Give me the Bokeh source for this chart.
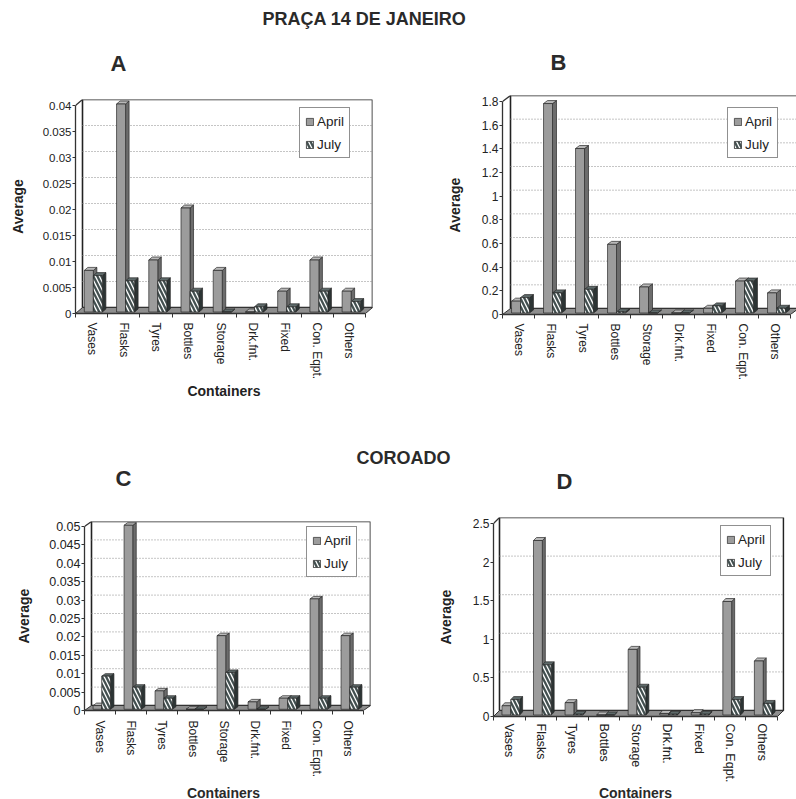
import numpy as np
from bokeh.plotting import figure
from bokeh.models import Range1d, LinearAxis, FixedTicker, Legend, LegendItem, Label
from bokeh.layouts import column, row
from bokeh.embed import file_html
from bokeh.resources import INLINE

# ---------------- data ----------------
categories = ["Vases", "Flasks", "Tyres", "Bottles", "Storage", "Drk.fnt.", "Fixed", "Con. Eqpt.", "Others"]
series_names = ["April", "July"]

a_april = [0.008, 0.04, 0.01, 0.02, 0.008, 0.0, 0.004, 0.01, 0.004]
a_july = [0.007, 0.006, 0.006, 0.004, 0.0, 0.001, 0.001, 0.004, 0.002]
a_yticks = [0, 0.005, 0.01, 0.015, 0.02, 0.025, 0.03, 0.035, 0.04]

b_april = [0.1, 1.77, 1.39, 0.58, 0.22, 0.0, 0.04, 0.27, 0.17]
b_july = [0.13, 0.17, 0.2, 0.01, 0.0, 0.0, 0.06, 0.27, 0.04]
b_yticks = [0, 0.2, 0.4, 0.6, 0.8, 1, 1.2, 1.4, 1.6, 1.8]

c_april = [0.001, 0.05, 0.005, 0.0, 0.02, 0.002, 0.003, 0.03, 0.02]
c_july = [0.009, 0.006, 0.003, 0.0, 0.01, 0.0, 0.003, 0.003, 0.006]
c_yticks = [0, 0.005, 0.01, 0.015, 0.02, 0.025, 0.03, 0.035, 0.04, 0.045, 0.05]

d_april = [0.12, 2.26, 0.16, 0.0, 0.85, 0.02, 0.03, 1.47, 0.7]
d_july = [0.2, 0.65, 0.01, 0.0, 0.36, 0.01, 0.01, 0.2, 0.15]
d_yticks = [0, 0.5, 1, 1.5, 2, 2.5]

header_top = "PRAÇA 14 DE JANEIRO"
header_bottom = "COROADO"
panel_letters = ["A", "B", "C", "D"]
y_title = "Average"
x_title = "Containers"

FONT = "Liberation Sans"
TXT = "#222222"
PAGE_W = 796


def build_panel(april, july, yticks, fig_x, fig_y, width, height,
                front_left, front_right, zero_y, top_y, DX, DY, frame_right,
                tick_font, cat_font, y_label_standoff, x_label, x_label_standoff,
                cat_standoff, legend_box):
    n = len(categories)
    ymax = yticks[-1]
    cw = (front_right - front_left) / n
    pxu = (zero_y - top_y) / ymax
    dx = DX / cw
    dy = DY / pxu
    L = front_left - fig_x
    R = fig_x + width - frame_right
    T = (top_y - DY) - fig_y
    B = fig_y + height - zero_y
    x0 = -0.5
    x1 = x0 + (frame_right - front_left) / cw
    y1 = (zero_y - (top_y - DY)) / pxu

    p = figure(width=width, height=height, x_range=Range1d(x0, x1), y_range=Range1d(0, y1),
               x_axis_type=None, y_axis_type=None, toolbar_location=None, output_backend="svg",
               min_border_left=L, min_border_right=R, min_border_top=T, min_border_bottom=B,
               outline_line_color=None)

    xe = n - 0.5
    # back wall
    p.quad(left=[x0 + dx], right=[xe + dx], bottom=[dy], top=[ymax + dy],
           fill_color="white", line_color="#222222", line_width=1.6)
    # grid lines on back wall
    gy = [t + dy for t in yticks[1:-1]]
    p.segment(x0=[x0 + dx] * len(gy), y0=gy, x1=[xe + dx] * len(gy), y1=gy,
              line_color="#8a8a8a", line_dash="1 2", line_width=1)
    # floor
    p.patch(x=[x0, xe, xe + dx, x0 + dx], y=[0, 0, dy, dy],
            fill_color="#8e8e8e", line_color="#333333", line_width=1)
    # left wall top edge
    p.segment(x0=[x0], y0=[ymax], x1=[x0 + dx], y1=[ymax + dy], line_color="#333333", line_width=1.3)

    idx = np.arange(n)
    fx, fy = 0.25 * dx, 0.25 * dy
    bdx, bdy = 0.5 * dx, 0.5 * dy
    bw = 0.28
    styles = [
        dict(front="#9c9c9c", side="#6c6c6c", top="#b9b9b9", hatch=None),
        dict(front="#435050", side="#2c3434", top="#5e6a6a", hatch="\\"),
    ]
    fronts = []
    for k, vals in enumerate([april, july]):
        st = styles[k]
        v = np.array(vals, dtype=float)
        left = idx - 0.5 + 0.22 + k * bw + fx
        right = left + bw
        bot = np.full(n, fy)
        top = fy + v
        side_xs = [[r, r + bdx, r + bdx, r] for r in right]
        side_ys = [[b, b + bdy, t + bdy, t] for b, t in zip(bot, top)]
        top_xs = [[l, r, r + bdx, l + bdx] for l, r in zip(left, right)]
        top_ys = [[t, t, t + bdy, t + bdy] for t in top]
        p.patches(side_xs, side_ys, fill_color=st["side"], line_color="#2a2a2a", line_width=0.7)
        p.patches(top_xs, top_ys, fill_color=st["top"], line_color="#2a2a2a", line_width=0.7)
        kw = dict(fill_color=st["front"], line_color="#2a2a2a", line_width=0.7)
        if st["hatch"]:
            kw.update(hatch_pattern=st["hatch"], hatch_color="white", hatch_weight=1.3, hatch_scale=8)
        r_front = p.vbar(x=(left + right) / 2, width=bw, top=top, bottom=bot, **kw)
        fronts.append(r_front)

    # y axis
    yax = LinearAxis(ticker=FixedTicker(ticks=yticks), bounds=(0, ymax),
                     major_label_overrides={t: f"{t:g}" for t in yticks},
                     axis_label=y_title)
    yax.axis_line_color = "#333333"
    yax.axis_line_width = 1.3
    yax.major_tick_out = 3
    yax.major_tick_in = 0
    yax.minor_tick_line_color = None
    yax.major_tick_line_color = "#333333"
    yax.major_label_standoff = 1
    yax.major_label_text_font = FONT
    yax.major_label_text_font_size = tick_font
    yax.major_label_text_color = TXT
    yax.axis_label_text_font = FONT
    yax.axis_label_text_font_size = "14px"
    yax.axis_label_text_font_style = "bold"
    yax.axis_label_text_color = TXT
    yax.axis_label_standoff = y_label_standoff
    p.add_layout(yax, "left")

    # x axis
    xax = LinearAxis(ticker=FixedTicker(ticks=list(range(n)), minor_ticks=[i - 0.5 for i in range(n + 1)]),
                     bounds=(x0, xe),
                     major_label_overrides={i: c for i, c in enumerate(categories)},
                     major_label_orientation="vertical",
                     axis_label=x_label)
    xax.axis_line_color = "#333333"
    xax.axis_line_width = 1.3
    xax.major_tick_line_color = None
    xax.major_tick_out = 0
    xax.major_tick_in = 0
    xax.minor_tick_line_color = "#333333"
    xax.minor_tick_out = 4
    xax.minor_tick_in = 0
    xax.major_label_standoff = cat_standoff
    xax.major_label_text_font = FONT
    xax.major_label_text_font_size = cat_font
    xax.major_label_text_color = TXT
    xax.axis_label_text_font = FONT
    xax.axis_label_text_font_size = "14px"
    xax.axis_label_text_font_style = "bold"
    xax.axis_label_text_color = TXT
    xax.axis_label_standoff = x_label_standoff
    p.add_layout(xax, "below")

    lb_left, lb_top, lb_right, lb_bottom = legend_box
    legend = Legend(items=[LegendItem(label=series_names[0], renderers=[fronts[0]]),
                           LegendItem(label=series_names[1], renderers=[fronts[1]])],
                    location=(lb_left - front_left, zero_y - lb_bottom))
    legend.border_line_color = "#222222"
    legend.border_line_width = 1
    legend.background_fill_color = "white"
    legend.background_fill_alpha = 1
    legend.label_text_font = FONT
    legend.label_text_font_size = "13.5px"
    legend.label_text_color = TXT
    legend.glyph_width = 9
    legend.glyph_height = 9
    legend.label_height = 16
    legend.spacing = 7
    legend.padding = 5
    legend.margin = 0
    legend.label_standoff = 3
    p.add_layout(legend)
    return p


def header(y0, height, texts):
    # texts: list of (text, x, y, size) in page pixels
    h = figure(width=PAGE_W, height=height, x_range=Range1d(0, PAGE_W), y_range=Range1d(y0 + height, y0),
               x_axis_type=None, y_axis_type=None, toolbar_location=None, output_backend="svg",
               min_border=0, outline_line_color=None)
    for text, x, y, size in texts:
        h.add_layout(Label(x=x, y=y, text=text, text_align="center", text_baseline="middle",
                           text_font=FONT, text_font_size=size, text_font_style="bold",
                           text_color="#2a2a2a"))
    return h


h1 = header(0, 75, [(header_top, 364, 18, "18px"),
                    (panel_letters[0], 118, 63, "22px"),
                    (panel_letters[1], 558, 62, "22px")])
pA = build_panel(a_april, a_july, a_yticks, 0, 75, 400, 365,
                 75, 365, 313, 105, 7, 6, 372,
                 "11.5px", "12px", 14, x_title, 1, 5, (299, 113, 350, 158))
pB = build_panel(b_april, b_july, b_yticks, 400, 75, 396, 365,
                 502, 790, 314, 101, 8, 6, 796,
                 "12px", "12px", 16, None, 1, 5, (727, 115, 778, 158))
h2 = header(440, 58, [(header_bottom, 403, 457, "18px"),
                      (panel_letters[2], 123, 478, "22px"),
                      (panel_letters[3], 564, 481, "22px")])
pC = build_panel(c_april, c_july, c_yticks, 0, 498, 400, 287,
                 84, 363, 710, 526, 7, 5, 370,
                 "12.5px", "12px", 14, None, 1, 6, (306, 532, 356, 577))
pD = build_panel(d_april, d_july, d_yticks, 400, 498, 396, 287,
                 493, 777, 717, 523, 6, 6, 784,
                 "12px", "12.5px", 16, None, 1, 3, (720, 531, 771, 577))
h3 = header(785, 14, [(x_title, 223, 792, "14px"),
                      (x_title, 635, 792, "14px")])

page = column(h1, row(column(pA), column(pB)), h2, row(column(pC), column(pD)), h3)
open("out.html", "w").write(file_html(page, INLINE))
